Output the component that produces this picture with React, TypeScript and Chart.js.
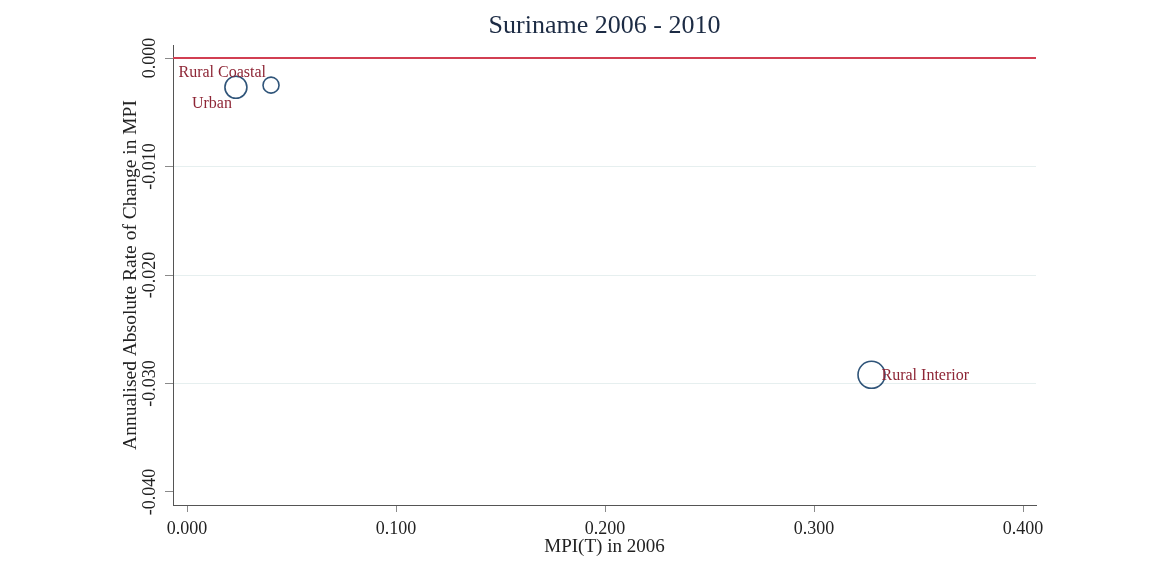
import React, { useEffect, useRef } from "react";
import { Chart, registerables } from "chart.js";

Chart.register(...registerables);

const categories = ["Urban", "Rural Coastal", "Rural Interior"];
const mpi2006 = [0.0234, 0.0402, 0.3275];
const annualChange = [-0.0027, -0.0025, -0.0292];
const chartTitle = "Suriname 2006 - 2010";
const xTitle = "MPI(T) in 2006";
const yTitle = "Annualised Absolute Rate of Change in MPI";

const SERIF = "'Liberation Serif', 'Times New Roman', serif";

const labelStyles: Record<string, { dx: number; dy: number; align: CanvasTextAlign }> = {
  Urban: { dx: -4, dy: 16, align: "right" },
  "Rural Coastal": { dx: -5, dy: -12, align: "right" },
  "Rural Interior": { dx: 10, dy: 1, align: "left" },
};

const fmt = (v: number) => (Math.abs(v) < 1e-9 ? "0.000" : v.toFixed(3));

export default function App() {
  const ref = useRef<HTMLCanvasElement | null>(null);

  useEffect(() => {
    document.body.style.margin = "0";
    const canvas = ref.current;
    if (!canvas) return;

    const zeroLine = {
      id: "zeroLine",
      beforeDatasetsDraw(chart: any) {
        const { ctx, chartArea, scales } = chart;
        const y = scales.y.getPixelForValue(0);
        ctx.save();
        ctx.strokeStyle = "#d23f52";
        ctx.lineWidth = 2;
        ctx.beginPath();
        ctx.moveTo(chartArea.left, y);
        ctx.lineTo(chartArea.right, y);
        ctx.stroke();
        ctx.restore();
      },
    };

    const plotTitle = {
      id: "plotTitle",
      afterDraw(chart: any) {
        const { ctx, chartArea } = chart;
        ctx.save();
        ctx.font = `26px ${SERIF}`;
        ctx.fillStyle = "#1c2b44";
        ctx.textAlign = "center";
        ctx.textBaseline = "middle";
        ctx.fillText(chartTitle, (chartArea.left + chartArea.right) / 2, 26);
        ctx.restore();
      },
    };

    const pointLabels = {
      id: "pointLabels",
      afterDatasetsDraw(chart: any) {
        const { ctx } = chart;
        const meta = chart.getDatasetMeta(0);
        ctx.save();
        ctx.font = `16px ${SERIF}`;
        ctx.fillStyle = "#8e2636";
        ctx.textBaseline = "middle";
        meta.data.forEach((pt: any, i: number) => {
          const name = categories[i];
          const s = labelStyles[name];
          ctx.textAlign = s.align;
          ctx.fillText(name, pt.x + s.dx, pt.y + s.dy);
        });
        ctx.restore();
      },
    };

    const chart = new Chart(canvas, {
      type: "scatter",
      data: {
        datasets: [
          {
            label: "MPI",
            data: categories.map((_, i) => ({ x: mpi2006[i], y: annualChange[i] })),
            pointRadius: [11, 8, 13.5],
            pointHoverRadius: [11, 8, 13.5],
            pointBorderWidth: 1.6,
            pointBorderColor: "#2f5479",
            pointBackgroundColor: "rgba(0,0,0,0)",
          },
        ],
      },
      options: {
        animation: false,
        responsive: false,
        devicePixelRatio: 1,
        layout: { padding: { left: 0, right: 115, top: 45, bottom: 0 } },
        plugins: {
          legend: { display: false },
          tooltip: { enabled: false },
          title: { display: false },
        },
        scales: {
          x: {
            type: "linear",
            min: -0.0067,
            max: 0.4062,
            afterFit: (s: any) => {
              s.height = 70;
            },
            ticks: {
              stepSize: 0.1,
              includeBounds: false,
              color: "#222",
              font: { family: SERIF, size: 18 },
              padding: 6,
              maxRotation: 0,
              callback: (v: any) => fmt(Number(v)),
            },
            grid: {
              drawOnChartArea: false,
              drawTicks: true,
              tickLength: 7,
              tickColor: "#8a8a8a",
            },
            border: { display: true, color: "#555", width: 1 },
            title: {
              display: true,
              text: xTitle,
              color: "#222",
              font: { family: SERIF, size: 19, lineHeight: 1.2 },
              padding: { top: 0, bottom: 17 },
            },
          },
          y: {
            type: "linear",
            min: -0.0412,
            max: 0.0012,
            afterFit: (s: any) => {
              s.width = 173;
            },
            ticks: {
              stepSize: 0.01,
              includeBounds: false,
              color: "#222",
              font: { family: SERIF, size: 18 },
              minRotation: 90,
              maxRotation: 90,
              crossAlign: "center",
              padding: -9,
              callback: (v: any) => fmt(Number(v)),
            },
            grid: {
              drawOnChartArea: true,
              drawTicks: true,
              tickLength: 8,
              tickColor: "#8a8a8a",
              lineWidth: 1,
              color: (ctx: any) => {
                const v = ctx.tick ? ctx.tick.value : 0;
                if (Math.abs(v) < 1e-9 || Math.abs(v + 0.04) < 1e-9) return "rgba(0,0,0,0)";
                return "#e6efef";
              },
            },
            border: { display: true, color: "#555", width: 1 },
            title: {
              display: true,
              text: yTitle,
              color: "#222",
              font: { family: SERIF, size: 19.5, lineHeight: 1.2 },
              padding: { top: 119, bottom: 0 },
            },
          },
        },
      },
      plugins: [zeroLine, pointLabels, plotTitle],
    });

    return () => chart.destroy();
  }, []);

  return (
    <div style={{ width: 1151, height: 575, overflow: "hidden", background: "#fff" }}>
      <canvas ref={ref} width={1151} height={575} style={{ display: "block" }} />
    </div>
  );
}
